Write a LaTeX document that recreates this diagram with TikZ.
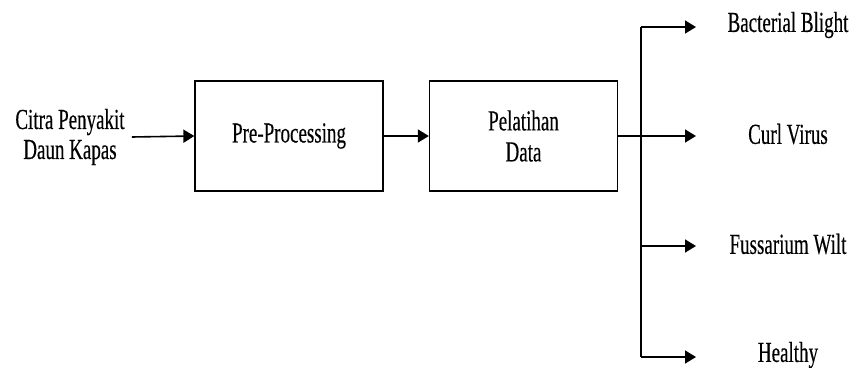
\documentclass[tikz,border=0pt]{standalone}
\usepackage{fontspec}
\setmainfont{Liberation Serif}[FakeStretch=0.655, FakeBold=0.3]
\usepackage{tikz}
\usetikzlibrary{positioning, arrows.meta}
\tikzset{
  block/.style = {rectangle, draw=black, line width=1.3pt,
                  minimum width=188pt, minimum height=110pt,
                  align=center, font=\fontsize{29}{31}\selectfont},
  txt/.style   = {align=center, inner sep=0pt, font=\fontsize{29}{30}\selectfont},
  ar/.style    = {-{Triangle[length=11pt,width=13pt]}, line width=1.6pt, draw=black},
  ln/.style    = {line width=1.6pt, draw=black},
}
\begin{document}
\begin{tikzpicture}[x=1pt, y=-1pt]
  \useasboundingbox (0,0) rectangle (854,367);

  % ----- input and blocks -----
  \node[txt] (citra) at (70,137) {Citra Penyakit\\Daun Kapas};
  \node[block] (prep) at (289,136) {Pre-Processing};
  \node[block] (latih) at (523.5,136) {Pelatihan\\Data};

  \draw[ar] (citra.east) ++(7,0) coordinate (cin) (cin) -- (prep.west);
  \draw[ar] (prep) -- (latih);

  % ----- output bus -----
  \coordinate (bus) at (641,136);
  \coordinate (bt) at (641,27);
  \coordinate (bb) at (641,357);
  \draw[ln] (latih.east) -- (bus);
  \draw[ln] (bt) -- (bb);

  % ----- classes -----
  \foreach \y/\name/\lbl in {27/bak/Bacterial Blight, 136/curl/Curl Virus,
                             246/fus/Fussarium Wilt, 357/sehat/Healthy}
  {
    \coordinate (s\name) at (641,\y);
    \coordinate (e\name) at (696,\y);
    \draw[ar] (s\name) -- (e\name);
    \node[txt] (\name) at (788,\y-2) {\lbl};
  }

\end{tikzpicture}
\end{document}
